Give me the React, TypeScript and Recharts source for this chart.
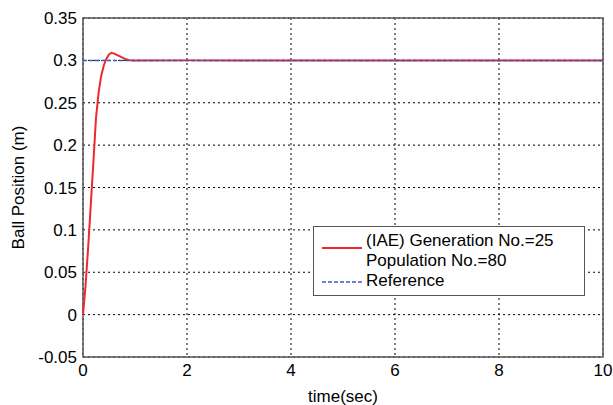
import React from 'react';
import {
  LineChart,
  Line,
  XAxis,
  YAxis,
  CartesianGrid,
  ReferenceArea,
} from 'recharts';

// time (s) and ball position (m)
const time = [0, 0.05, 0.1, 0.15, 0.2, 0.25, 0.3, 0.35, 0.4, 0.45, 0.5, 0.55, 0.6, 0.7, 0.8, 0.9, 1, 2, 3, 4, 5, 6, 7, 8, 9, 10];
const iaePosition = [0.0, 0.035, 0.08, 0.13, 0.18, 0.232, 0.262, 0.282, 0.294, 0.302, 0.307, 0.309, 0.308, 0.305, 0.302, 0.3, 0.2998, 0.3, 0.3, 0.3, 0.3, 0.3, 0.3, 0.3, 0.3, 0.3];
const referencePosition = [0.3, 0.3, 0.3, 0.3, 0.3, 0.3, 0.3, 0.3, 0.3, 0.3, 0.3, 0.3, 0.3, 0.3, 0.3, 0.3, 0.3, 0.3, 0.3, 0.3, 0.3, 0.3, 0.3, 0.3, 0.3, 0.3];

const xTicks = [0, 2, 4, 6, 8, 10];
const yTicks = [-0.05, 0, 0.05, 0.1, 0.15, 0.2, 0.25, 0.3, 0.35];

const data = time.map((t, i) => ({ t, iae: iaePosition[i], ref: referencePosition[i] }));

const font = 'Arial, "Liberation Sans", sans-serif';
const RED = '#f0282d';
const BLUE = '#3a55c0';

// legend drawn as an overlay box, like the MATLAB one
const LegendBox = () => (
  <div
    style={{
      position: 'absolute',
      left: 313,
      top: 226,
      width: 272,
      height: 70,
      border: '1px solid #555',
      background: '#fff',
      fontFamily: font,
      fontSize: 17,
      color: '#000',
      boxSizing: 'border-box',
    }}
  >
    <svg width={50} height={64} style={{ position: 'absolute', left: 6, top: 4 }}>
      <line x1={2} y1={17} x2={42} y2={17} stroke={RED} strokeWidth={2} />
      <line x1={2} y1={51} x2={42} y2={51} stroke={BLUE} strokeWidth={1.5} strokeDasharray="4 2" />
    </svg>
    <div style={{ position: 'absolute', left: 52, top: 4, lineHeight: '20px' }}>
      (IAE) Generation No.=25
      <br />
      Population No.=80
      <br />
      Reference
    </div>
  </div>
);

export default function App() {
  return (
    <div style={{ position: 'absolute', left: 0, top: 0, width: 613, height: 405, background: '#fff' }}>
      <LineChart width={613} height={405} data={data} margin={{ top: 18, right: 10, bottom: 0, left: 0 }}>
        <CartesianGrid stroke="#000" strokeDasharray="2 3" strokeWidth={1} />
        <XAxis
          dataKey="t"
          type="number"
          domain={[0, 10]}
          ticks={xTicks}
          height={48}
          tickLine={false}
          axisLine={false}
          tickSize={0}
          tickMargin={7}
          tick={{ fill: '#000', fontSize: 17, fontFamily: font }}
          label={{ value: 'time(sec)', position: 'insideBottom', offset: 3, fill: '#000', fontSize: 17, fontFamily: font }}
        />
        <YAxis
          type="number"
          domain={[-0.05, 0.35]}
          ticks={yTicks}
          width={83}
          tickLine={false}
          axisLine={false}
          tickSize={0}
          tickMargin={6}
          tickFormatter={(v: number) => String(Math.round(v * 100) / 100)}
          tick={{ fill: '#000', fontSize: 17, fontFamily: font }}
          label={{ value: 'Ball Position (m)', angle: -90, position: 'insideLeft', offset: 18, fill: '#000', fontSize: 17, fontFamily: font, style: { textAnchor: 'middle' } }}
        />
        <ReferenceArea x1={0} x2={10} y1={-0.05} y2={0.35} fill="none" stroke="#555" strokeWidth={1.5} />
        <Line type="linear" dataKey="iae" stroke={RED} strokeWidth={2} dot={false} isAnimationActive={false} />
        <Line type="linear" dataKey="ref" stroke={BLUE} strokeWidth={1.5} strokeDasharray="4 2" dot={false} isAnimationActive={false} />
      </LineChart>
      <LegendBox />
    </div>
  );
}
